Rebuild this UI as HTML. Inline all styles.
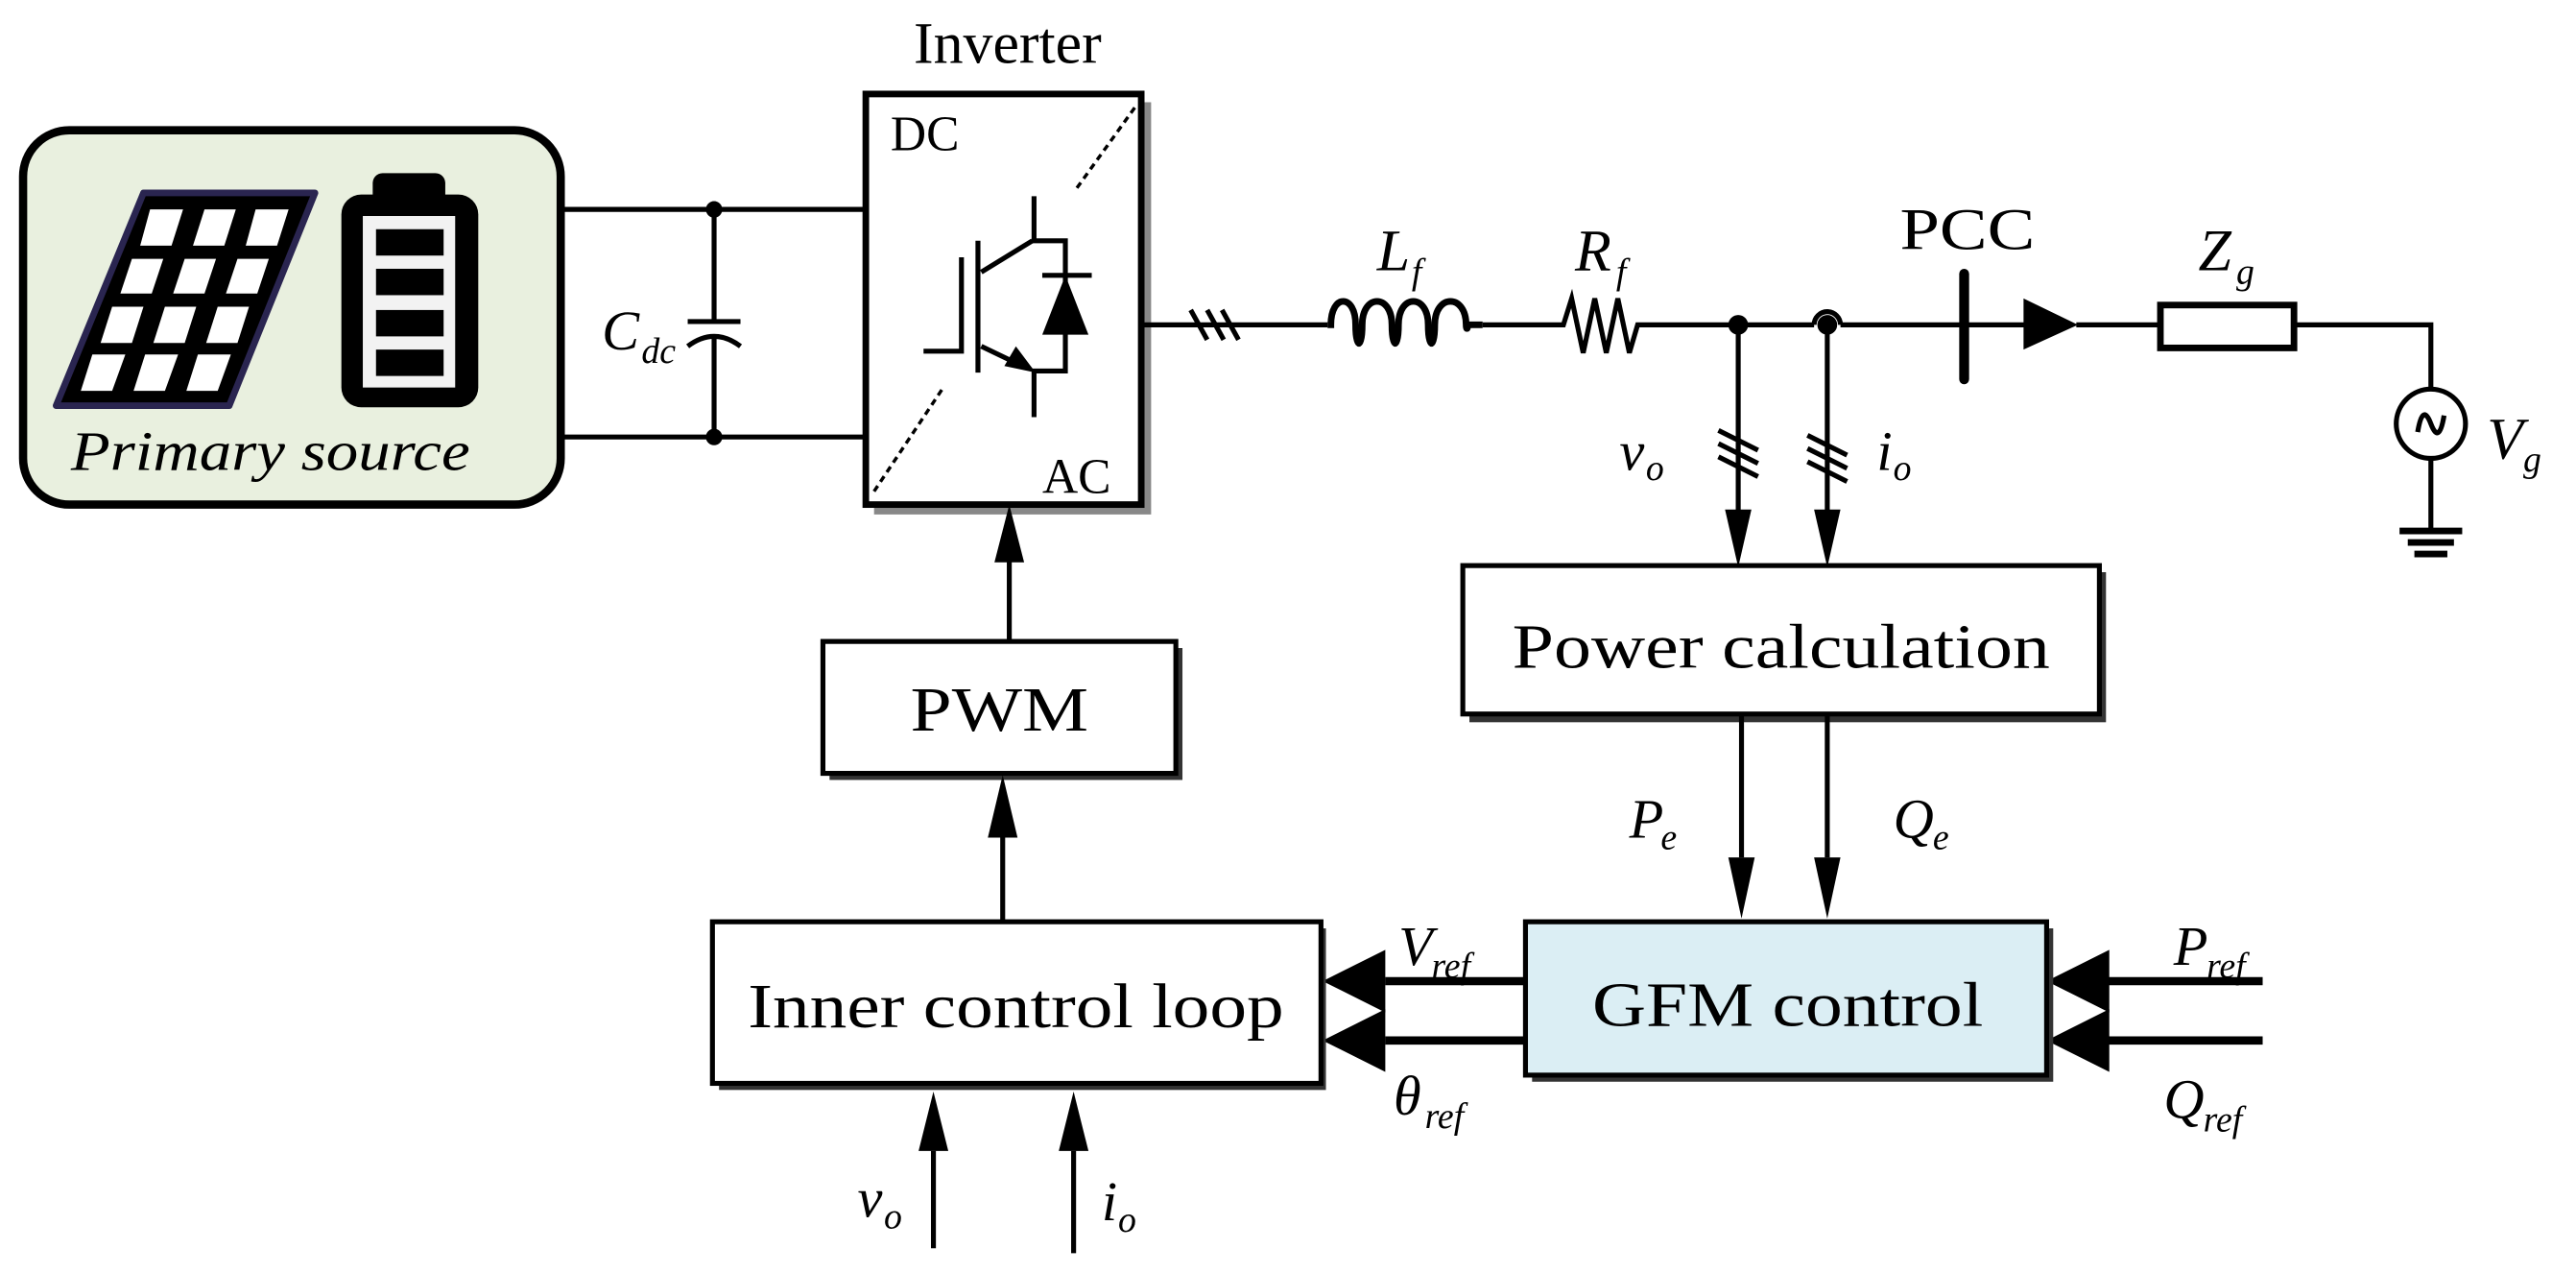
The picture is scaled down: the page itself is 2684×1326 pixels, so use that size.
<!DOCTYPE html>
<html><head><meta charset="utf-8"><style>
html,body{margin:0;padding:0;background:#fff;}
svg{display:block;}
text{font-family:"Liberation Serif","Times New Roman",serif;fill:#000;}
.it{font-style:italic;}
</style></head><body>
<svg width="2684" height="1326" viewBox="0 0 1562 772" preserveAspectRatio="none" xmlns="http://www.w3.org/2000/svg">
<!-- Primary source -->
<rect x="14" y="79" width="326" height="227" rx="28" fill="#e9f0df" stroke="#000" stroke-width="5"/>
<polygon points="87,117 191,117 139,246 34,246" fill="#000" stroke="#2a2550" stroke-width="4" stroke-linejoin="round"/>
<g fill="#fff">
<polygon points="91,127 111,127 104,149 85,149"/><polygon points="124,127 143,127 136,149 117,149"/><polygon points="155,127 175,127 168,149 149,149"/>
<polygon points="80,157 99,157 92,178 73,178"/><polygon points="112,157 131,157 124,178 105,178"/><polygon points="144,157 163,157 156,178 137,178"/>
<polygon points="68,186 87,186 80,208 61,208"/><polygon points="100,186 119,186 112,208 93,208"/><polygon points="132,186 151,186 144,208 125,208"/>
<polygon points="56,215 76,215 68,237 49,237"/><polygon points="88,215 108,215 100,237 81,237"/><polygon points="120,215 140,215 132,237 113,237"/>
</g>
<rect x="226" y="105" width="44" height="20" rx="6" fill="#000"/>
<rect x="207" y="118" width="83" height="129" rx="12" fill="#000"/>
<rect x="220" y="131" width="56" height="104" fill="#f2f2f2"/>
<g fill="#000"><rect x="228" y="139" width="41" height="16"/><rect x="228" y="163" width="41" height="16"/><rect x="228" y="188" width="41" height="16"/><rect x="228" y="212" width="41" height="16"/></g>
<text x="43" y="285" class="it" font-size="34" textLength="242" lengthAdjust="spacingAndGlyphs">Primary source</text>
<!-- DC link -->
<g stroke="#000" stroke-width="3" fill="none">
<line x1="340" y1="127" x2="525" y2="127"/>
<line x1="340" y1="265" x2="525" y2="265"/>
<line x1="433" y1="127" x2="433" y2="195"/>
<line x1="433" y1="205" x2="433" y2="265"/>
<line x1="417" y1="195" x2="449" y2="195"/>
<path d="M417,210 Q433,198 449,210"/>
</g>
<circle cx="433" cy="127" r="5"/><circle cx="433" cy="265" r="5"/>
<text x="365" y="212" class="it" font-size="34">C</text><text x="389" y="220" class="it" font-size="22">dc</text>
<!-- Inverter -->
<rect x="530" y="62" width="168" height="250" fill="#888"/>
<rect x="525" y="57" width="167" height="249" fill="#fff" stroke="#000" stroke-width="4"/>
<text x="611" y="38" font-size="36" text-anchor="middle">Inverter</text>
<text x="540" y="91" font-size="30">DC</text>
<text x="632" y="299" font-size="30">AC</text>
<g stroke="#000" stroke-width="2" stroke-dasharray="4,3" fill="none">
<line x1="530" y1="298" x2="572" y2="235"/><line x1="653" y1="114" x2="689" y2="64"/>
</g>
<g stroke="#000" stroke-width="3" fill="none">
<polyline points="627,119 627,146 646,146 646,225 627,225 627,253"/>
<line x1="593" y1="146" x2="593" y2="226"/>
<polyline points="583,156 583,213 560,213"/>
<line x1="595" y1="165" x2="626" y2="146"/>
<line x1="595" y1="210" x2="620" y2="222"/>
<line x1="632" y1="167" x2="662" y2="167"/>
</g>
<polygon points="646,167 632,203 660,203"/>
<polygon points="628,226 609,222 616,210"/>
<!-- AC line -->
<g stroke="#000" stroke-width="3" fill="none">
<line x1="692" y1="197" x2="805" y2="197"/>
<line x1="722" y1="188" x2="732" y2="206"/><line x1="732" y1="188" x2="742" y2="206"/><line x1="741" y1="188" x2="751" y2="206"/>
<path stroke-width="4" d="M805,197 L807,197 C807,178 822,178 822,197 C822,212 826,212 826,197 C826,178 844,178 844,197 C844,212 848,212 848,197 C848,178 866,178 866,197 C866,212 870,212 870,197 C870,178 889,178 889,197 C889,200 890,200 890,197 L899,197"/>
<polyline points="899,197 948,197 953,181 960,214 967,181 974,214 981,181 988,214 993,197 1100,197"/>
<path d="M1100,197 A8,8 0 0 1 1116,197"/>
<line x1="1116" y1="197" x2="1230" y2="197"/>
<line x1="1259" y1="197" x2="1310" y2="197"/>
<polyline points="1391,197 1474,197 1474,235"/>
<line x1="1474" y1="279" x2="1474" y2="322"/>
<line x1="1054" y1="197" x2="1054" y2="312"/>
<line x1="1108" y1="197" x2="1108" y2="312"/>
<line x1="1042" y1="261" x2="1066" y2="273"/><line x1="1042" y1="269" x2="1066" y2="281"/><line x1="1042" y1="277" x2="1066" y2="289"/>
<line x1="1096" y1="264" x2="1120" y2="276"/><line x1="1096" y1="272" x2="1120" y2="284"/><line x1="1096" y1="280" x2="1120" y2="292"/>
</g>
<circle cx="1054" cy="197" r="6"/><circle cx="1108" cy="197" r="6"/>
<line x1="1191" y1="166" x2="1191" y2="230" stroke="#000" stroke-width="6" stroke-linecap="round"/>
<polygon points="1227,181 1260,197 1227,212"/>
<rect x="1310" y="185" width="81" height="26" fill="#fff" stroke="#000" stroke-width="4"/>
<circle cx="1474" cy="257" r="21" fill="#fff" stroke="#000" stroke-width="3"/>
<path d="M1466,262 Q1469,244 1474,257 Q1479,270 1482,252" fill="none" stroke="#000" stroke-width="3"/>
<g stroke="#000" stroke-width="4"><line x1="1455" y1="322" x2="1493" y2="322"/><line x1="1460" y1="329" x2="1488" y2="329"/><line x1="1464" y1="336" x2="1484" y2="336"/></g>
<text x="835" y="164" class="it" font-size="36">L</text><text x="856" y="172" class="it" font-size="22">f</text>
<text x="955" y="164" class="it" font-size="36">R</text><text x="980" y="172" class="it" font-size="22">f</text>
<text x="1152" y="151" font-size="36" textLength="82" lengthAdjust="spacingAndGlyphs">PCC</text>
<text x="1333" y="164" class="it" font-size="36">Z</text><text x="1356" y="172" class="it" font-size="22">g</text>
<text x="1508" y="278" class="it" font-size="36">V</text><text x="1530" y="286" class="it" font-size="22">g</text>
<text x="982" y="285" class="it" font-size="34">v</text><text x="998" y="291" class="it" font-size="22">o</text>
<text x="1138" y="285" class="it" font-size="34">i</text><text x="1148" y="291" class="it" font-size="22">o</text>
<polygon points="1046,309 1062,309 1054,344"/><polygon points="1100,309 1116,309 1108,344"/>
<!-- Power calculation -->
<rect x="891" y="347" width="386" height="91" fill="#333"/>
<rect x="887" y="343" width="386" height="90" fill="#fff" stroke="#000" stroke-width="3"/>
<text x="1080" y="405" font-size="38" text-anchor="middle" textLength="326" lengthAdjust="spacingAndGlyphs">Power calculation</text>
<!-- PWM -->
<rect x="503" y="393" width="214" height="80" fill="#333"/>
<rect x="499" y="389" width="214" height="80" fill="#fff" stroke="#000" stroke-width="3"/>
<text x="606" y="443" font-size="38" text-anchor="middle" textLength="108" lengthAdjust="spacingAndGlyphs">PWM</text>
<g stroke="#000" stroke-width="3">
<line x1="612" y1="340" x2="612" y2="389"/>
<line x1="608" y1="508" x2="608" y2="559"/>
<line x1="1056" y1="433" x2="1056" y2="520"/>
<line x1="1108" y1="433" x2="1108" y2="520"/>
<line x1="840" y1="595" x2="925" y2="595" stroke-width="5"/>
<line x1="840" y1="631" x2="925" y2="631" stroke-width="5"/>
<line x1="1277" y1="595" x2="1372" y2="595" stroke-width="5"/>
<line x1="1277" y1="631" x2="1372" y2="631" stroke-width="5"/>
<line x1="566" y1="698" x2="566" y2="757"/>
<line x1="651" y1="698" x2="651" y2="760"/>
</g>
<polygon points="612,306 603,341 621,341"/>
<polygon points="608,470 599,508 617,508"/>
<polygon points="1048,520 1064,520 1056,557"/><polygon points="1100,520 1116,520 1108,557"/>
<polygon points="802,595 840,576 840,614"/><polygon points="802,631 840,612 840,650"/>
<polygon points="1241,595 1279,576 1279,614"/><polygon points="1241,631 1279,612 1279,650"/>
<polygon points="566,662 557,698 575,698"/><polygon points="651,662 642,698 660,698"/>
<!-- Inner control loop -->
<rect x="436" y="563" width="368" height="98" fill="#333"/>
<rect x="432" y="559" width="369" height="98" fill="#fff" stroke="#000" stroke-width="3"/>
<text x="616" y="623" font-size="38" text-anchor="middle" textLength="325" lengthAdjust="spacingAndGlyphs">Inner control loop</text>
<!-- GFM -->
<rect x="929" y="563" width="316" height="93" fill="#333"/>
<rect x="925" y="559" width="316" height="93" fill="#dbeef4" stroke="#000" stroke-width="3"/>
<text x="1084" y="622" font-size="38" text-anchor="middle" textLength="237" lengthAdjust="spacingAndGlyphs">GFM control</text>
<!-- labels -->
<text x="988" y="508" class="it" font-size="34">P</text><text x="1007" y="515" class="it" font-size="22">e</text>
<text x="1148" y="508" class="it" font-size="34">Q</text><text x="1172" y="515" class="it" font-size="22">e</text>
<text x="848" y="585" class="it" font-size="34">V</text><text x="868" y="593" class="it" font-size="22">ref</text>
<text x="845" y="676" class="it" font-size="34">θ</text><text x="864" y="684" class="it" font-size="22">ref</text>
<text x="1318" y="585" class="it" font-size="34">P</text><text x="1338" y="593" class="it" font-size="22">ref</text>
<text x="1312" y="678" class="it" font-size="34">Q</text><text x="1336" y="686" class="it" font-size="22">ref</text>
<text x="520" y="738" class="it" font-size="34">v</text><text x="536" y="745" class="it" font-size="22">o</text>
<text x="668" y="740" class="it" font-size="34">i</text><text x="678" y="747" class="it" font-size="22">o</text>
</svg>
</body></html>
